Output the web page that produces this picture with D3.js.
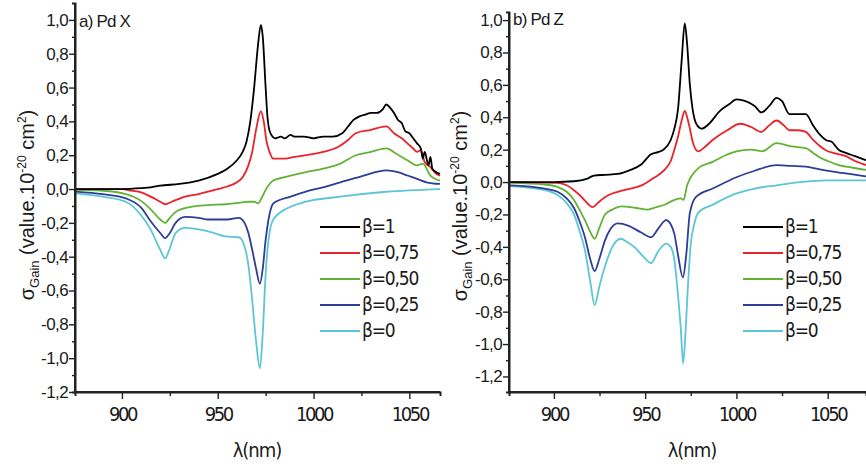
<!DOCTYPE html>
<html>
<head>
<meta charset="utf-8">
<script src="https://cdn.jsdelivr.net/npm/d3@7"></script>
<style>
  body { margin: 0; background: #fff; }
  svg { display: block; }
</style>
</head>
<body>
<svg id="chart" width="866" height="468"></svg>
<script>
// legend labels and colours, same order for both panels
const betaLabels = ["β=1", "β=0,75", "β=0,50", "β=0,25", "β=0"]
const betaColors = ["#000000", "#e8232a", "#62b236", "#2e3d96", "#5cc6d6"]

const xTicks = [900, 950, 1000, 1050]
const xMinorTicks = [925, 975, 1025]
const yTicks = [-1.2, -1.0, -0.8, -0.6, -0.4, -0.2, 0.0, 0.2, 0.4, 0.6, 0.8, 1.0]
const yMinorTicks = [-1.1, -0.9, -0.7, -0.5, -0.3, -0.1, 0.1, 0.3, 0.5, 0.7, 0.9]

// panel a) Pd X  -- [lambda nm, sigma gain]
const pdX_b100 = [[876,0],[900,0.0],[910,0.005],[915,0.01],[920,0.02],[930,0.03],[940,0.05],[950,0.09],[955,0.12],[960,0.17],[963,0.22],[965,0.28],[967,0.4],[969,0.6],[971,0.85],[972.5,0.97],[973.5,0.9],[975,0.6],[976,0.42],[977.5,0.33],[980,0.30],[983,0.31],[985,0.30],[988,0.32],[990,0.31],[995,0.31],[1000,0.30],[1005,0.31],[1010,0.31],[1015,0.33],[1018,0.37],[1021,0.41],[1024,0.43],[1027,0.44],[1030,0.45],[1033,0.45],[1036,0.47],[1038,0.50],[1040,0.48],[1042,0.45],[1044,0.41],[1046,0.39],[1048,0.34],[1050,0.33],[1052,0.30],[1054,0.27],[1056,0.24],[1057,0.18],[1058,0.22],[1060,0.14],[1061,0.19],[1062,0.12],[1064,0.10],[1066,0.09]]
const pdX_b075 = [[876,0],[900,0],[905,-0.01],[910,-0.02],[915,-0.045],[920,-0.075],[922.5,-0.09],[926,-0.075],[933,-0.045],[940,-0.03],[945,-0.015],[950,0.0],[955,0.015],[960,0.04],[963,0.07],[966,0.14],[968,0.22],[970,0.35],[972.5,0.46],[974,0.4],[975.5,0.28],[977,0.22],[979,0.18],[985,0.18],[990,0.19],[996,0.20],[1005,0.22],[1013,0.25],[1018,0.29],[1022,0.33],[1030,0.35],[1038,0.37],[1042,0.33],[1046,0.30],[1049,0.27],[1052,0.24],[1054,0.22],[1056,0.23],[1058,0.16],[1061,0.13],[1064,0.09],[1066,0.08]]
const pdX_b050 = [[876,-0.005],[890,-0.01],[902,-0.03],[910,-0.07],[915,-0.12],[920,-0.18],[922.5,-0.20],[925,-0.17],[928,-0.135],[936,-0.105],[945,-0.095],[954,-0.09],[962,-0.08],[966,-0.075],[969,-0.075],[971,-0.085],[973,-0.05],[975,-0.005],[979,0.05],[985,0.07],[996,0.10],[1005,0.12],[1014,0.15],[1022,0.20],[1030,0.22],[1038,0.24],[1043,0.21],[1049,0.17],[1054,0.14],[1057,0.15],[1061,0.08],[1066,0.05]]
const pdX_b025 = [[876,-0.015],[890,-0.03],[902,-0.055],[910,-0.11],[915,-0.19],[920,-0.26],[922.5,-0.29],[925,-0.26],[928,-0.20],[933,-0.165],[940,-0.17],[945,-0.18],[955,-0.18],[961,-0.17],[964,-0.2],[966,-0.26],[968,-0.36],[970,-0.47],[972,-0.56],[973.5,-0.47],[975,-0.30],[976.5,-0.18],[979,-0.085],[988,-0.045],[996,-0.015],[1005,0.01],[1014,0.04],[1025,0.075],[1038,0.11],[1044,0.10],[1049,0.08],[1054,0.06],[1059,0.04],[1066,0.03]]
const pdX_b000 = [[876,-0.025],[890,-0.045],[902,-0.075],[910,-0.155],[915,-0.24],[920,-0.36],[922.5,-0.41],[925,-0.35],[928,-0.26],[933,-0.23],[941,-0.24],[948,-0.26],[954,-0.28],[961,-0.285],[964,-0.34],[966,-0.45],[968,-0.66],[970,-0.9],[972,-1.06],[973.5,-0.85],[975,-0.5],[976.5,-0.3],[979,-0.18],[988,-0.105],[996,-0.075],[1014,-0.045],[1038,-0.016],[1066,0.0]]

// panel b) Pd Z
const pdZ_b100 = [[876,0.0],[900,0.0],[911,0.005],[918,0.02],[922,0.04],[928,0.045],[935,0.05],[942,0.075],[948,0.11],[953,0.17],[957,0.185],[960,0.2],[964,0.26],[966,0.33],[968,0.45],[970,0.75],[971.7,0.98],[973,0.85],[974.5,0.6],[976,0.45],[978,0.36],[981,0.33],[985,0.36],[991,0.44],[996,0.48],[1000,0.51],[1005,0.50],[1010,0.47],[1013.7,0.43],[1018,0.47],[1022,0.52],[1025,0.50],[1029,0.42],[1034,0.42],[1038,0.42],[1042,0.35],[1046,0.29],[1049,0.26],[1052,0.25],[1056,0.20],[1060,0.18],[1065,0.16],[1071,0.135]]
const pdZ_b075 = [[876,0],[902,-0.005],[907,-0.02],[911,-0.05],[915,-0.09],[917,-0.115],[921.3,-0.155],[924,-0.13],[926,-0.11],[930,-0.08],[935,-0.06],[942,-0.04],[948,-0.02],[954,0.02],[958,0.05],[961,0.08],[964,0.13],[966,0.2],[968,0.28],[970,0.38],[971.7,0.44],[973,0.40],[974.5,0.33],[976,0.25],[979,0.19],[983,0.22],[987,0.26],[995,0.32],[1002,0.36],[1008,0.34],[1013.7,0.31],[1018,0.35],[1022,0.38],[1026,0.35],[1029,0.32],[1034,0.32],[1038,0.31],[1042,0.26],[1046,0.22],[1050,0.19],[1053,0.18],[1060,0.16],[1065,0.13],[1071,0.105]]
const pdZ_b050 = [[876,-0.005],[895,-0.015],[902,-0.03],[907,-0.06],[911,-0.11],[914,-0.17],[917,-0.235],[920,-0.31],[922.3,-0.35],[925,-0.28],[928,-0.2],[932,-0.17],[937,-0.15],[945,-0.16],[951.5,-0.17],[956,-0.155],[960.6,-0.14],[966,-0.11],[969.5,-0.10],[971,-0.11],[973,-0.02],[975,0.03],[979,0.085],[987,0.125],[995,0.17],[1000,0.19],[1008,0.2],[1014,0.19],[1022,0.24],[1030,0.22],[1038,0.21],[1042,0.18],[1046,0.15],[1050,0.13],[1056,0.105],[1063,0.09],[1071,0.075]]
const pdZ_b025 = [[876,-0.02],[895,-0.04],[902,-0.06],[907,-0.1],[911,-0.16],[914,-0.24],[917,-0.34],[920,-0.48],[922.3,-0.55],[925,-0.47],[928,-0.36],[931,-0.29],[935,-0.255],[941,-0.27],[947.6,-0.31],[953.3,-0.34],[957,-0.29],[961.5,-0.235],[964,-0.26],[966,-0.32],[968,-0.45],[970.7,-0.59],[972.5,-0.45],[974.5,-0.19],[978,-0.09],[987,-0.04],[1000,0.03],[1010,0.07],[1022,0.105],[1030,0.10],[1038,0.095],[1045,0.08],[1053,0.065],[1062,0.05],[1071,0.035]]
const pdZ_b000 = [[876,-0.025],[895,-0.05],[902,-0.08],[907,-0.13],[911,-0.2],[914,-0.3],[917,-0.42],[920,-0.62],[922.3,-0.76],[925,-0.64],[928,-0.52],[932,-0.4],[936.7,-0.35],[940,-0.37],[944,-0.40],[949,-0.46],[953.3,-0.50],[957,-0.43],[961.5,-0.38],[964,-0.40],[966,-0.48],[968,-0.7],[969.5,-0.9],[970.8,-1.12],[972,-0.95],[973.5,-0.63],[975,-0.38],[976.5,-0.28],[979,-0.19],[987,-0.14],[1000,-0.07],[1010,-0.04],[1022,-0.02],[1035,0.0],[1050,0.01],[1071,0.01]]

const svg = d3.select("#chart")

// comma decimals and a plain hyphen for minus, like the original plot
const commaFmt = d => d3.format(".1f")(d).replace(".", ",").replace("−", "-")

function drawPanel(opts) {
    const x = d3.scaleLinear().domain(opts.xDomain).range(opts.xRange)
    const y = d3.scaleLinear().domain(opts.yDomain).range(opts.yRange)
    const g = svg.append("g")

    //curves, beta=0 drawn first so black ends on top
    const line = d3.line().curve(d3.curveMonotoneX).x(d => x(d[0])).y(d => y(d[1]))
    opts.series.slice().reverse().forEach((s, i) => {
        const k = opts.series.length - 1 - i
        g.append("path")
            .datum(s)
            .attr("fill", "none")
            .attr("stroke", betaColors[k])
            .attr("stroke-width", 1.8)
            .attr("stroke-linejoin", "round")
            .attr("d", line)
    })

    //Y AXIS, major and minor ticks
    const yAxis = g.append("g")
        .attr("transform", `translate(${opts.xRange[0]},0)`)
        .call(d3.axisLeft(y).tickValues(yTicks).tickSize(6).tickPadding(1).tickFormat(commaFmt))
    yAxis.append("g")
        .call(d3.axisLeft(y).tickValues(yMinorTicks).tickSize(3).tickFormat(""))
    yAxis.selectAll("text")
        .attr("font-family", "'Liberation Sans', Arial, sans-serif")
        .attr("font-size", 17)
        .attr("letter-spacing", -0.6)
        .attr("fill", "#1a1a1a")

    //X AXIS sits at the bottom of the y range
    const xAxis = g.append("g")
        .attr("transform", `translate(0,${opts.yRange[0]})`)
        .call(d3.axisBottom(x).tickValues(xTicks).tickSize(7).tickPadding(8).tickFormat(d3.format("d")))
    xAxis.append("g")
        .call(d3.axisBottom(x).tickValues(xMinorTicks).tickSize(4).tickFormat(""))
    xAxis.selectAll("text")
        .attr("font-family", "'Liberation Sans Narrow', 'DejaVu Sans Condensed', sans-serif")
        .attr("font-size", 20)
        .attr("letter-spacing", -2.4)
        .attr("fill", "#1a1a1a")

    //thicker dark axis lines
    g.selectAll(".domain").attr("stroke", "#222").attr("stroke-width", 2)
    g.selectAll(".tick line").attr("stroke", "#222").attr("stroke-width", 1.4)
    yAxis.select(".domain").attr("d", `M0,${opts.yRange[0]}V${opts.yRange[1]}`)
    xAxis.select(".domain").attr("d", `M${opts.xRange[0]},0H${opts.xRange[1]}`)

    //panel title
    g.append("text")
        .attr("x", opts.xRange[0] + 4)
        .attr("y", opts.titleY)
        .attr("font-family", "'Liberation Sans', Arial, sans-serif")
        .attr("font-size", 17)
        .attr("letter-spacing", -0.8)
        .attr("fill", "#1a1a1a")
        .text(opts.title)

    //y label, rotated
    const yl = g.append("text")
        .attr("transform", `translate(${opts.yLabelX},${opts.yLabelY}) rotate(-90)`)
        .attr("text-anchor", "middle")
        .attr("font-family", "'Liberation Sans', Arial, sans-serif")
        .attr("font-size", 20)
        .attr("fill", "#1a1a1a")
    yl.append("tspan").text("σ")
    yl.append("tspan").attr("font-size", 13).attr("dy", 5).text("Gain")
    yl.append("tspan").attr("dy", -5).text(" (value.10")
    yl.append("tspan").attr("font-size", 12).attr("dy", -8).text("-20")
    yl.append("tspan").attr("dy", 8).text(" cm")
    yl.append("tspan").attr("font-size", 12).attr("dy", -8).text("2")
    yl.append("tspan").attr("dy", 8).text(")")

    //x label
    g.append("text")
        .attr("x", opts.xLabelX)
        .attr("y", 457)
        .attr("text-anchor", "middle")
        .attr("font-family", "'Liberation Sans Narrow', 'DejaVu Sans Condensed', sans-serif")
        .attr("font-size", 20)
        .attr("letter-spacing", -1)
        .attr("fill", "#1a1a1a")
        .text("λ(nm)")

    //LEGEND
    const leg = g.append("g").attr("transform", `translate(${opts.legendX},${opts.legendY})`)
    betaLabels.forEach((lab, i) => {
        const row = leg.append("g").attr("transform", `translate(0,${i * 26})`)
        row.append("line")
            .attr("x1", 0).attr("x2", 40)
            .attr("stroke", betaColors[i]).attr("stroke-width", 2.2)
        row.append("text")
            .attr("x", 42).attr("y", 6)
            .attr("font-family", "'Liberation Sans Narrow', 'DejaVu Sans Condensed', sans-serif")
            .attr("font-size", 19)
            .attr("letter-spacing", -1.2)
            .attr("fill", "#1a1a1a")
            .text(lab)
    })
}

drawPanel({
    series: [pdX_b100, pdX_b075, pdX_b050, pdX_b025, pdX_b000],
    xDomain: [875.5, 1066], xRange: [75, 440],
    yDomain: [-1.2, 1.1], yRange: [392, 3],
    title: "a) Pd X", titleY: 27,
    yLabelX: 34, yLabelY: 205,
    xLabelX: 257,
    legendX: 320, legendY: 227
})

drawPanel({
    series: [pdZ_b100, pdZ_b075, pdZ_b050, pdZ_b025, pdZ_b000],
    xDomain: [875.4, 1071], xRange: [509, 866],
    yDomain: [-1.296, 1.05], yRange: [392, 12],
    title: "b) Pd Z", titleY: 25,
    yLabelX: 467, yLabelY: 206,
    xLabelX: 692,
    legendX: 743, legendY: 227
})
</script>
</body>
</html>
